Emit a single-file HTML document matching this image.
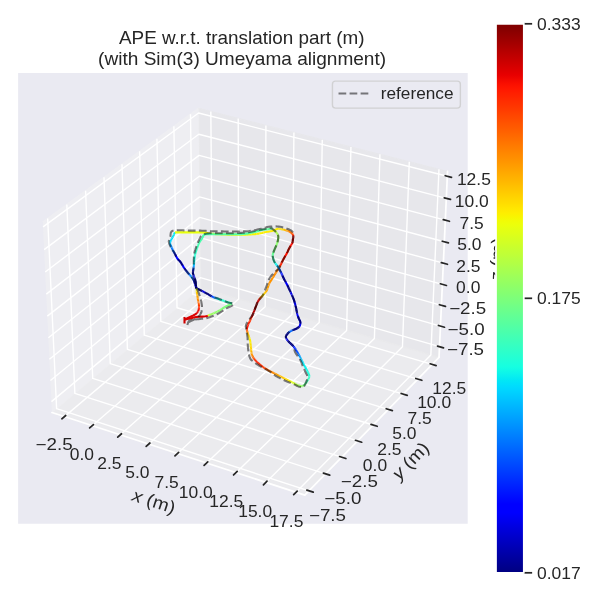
<!DOCTYPE html>
<html><head><meta charset="utf-8"><title>APE plot</title><style>html,body{margin:0;padding:0;background:#fff;font-family:"Liberation Sans",sans-serif}svg{display:block;will-change:transform}</style></head><body>
<svg width="600" height="600" viewBox="0 0 600 600">
<defs>
<linearGradient id="jetg" x1="0" y1="1" x2="0" y2="0"><stop offset="0.0000" stop-color="#000080"/><stop offset="0.0078" stop-color="#000089"/><stop offset="0.0156" stop-color="#000092"/><stop offset="0.0234" stop-color="#00009b"/><stop offset="0.0312" stop-color="#0000a4"/><stop offset="0.0391" stop-color="#0000ad"/><stop offset="0.0469" stop-color="#0000b6"/><stop offset="0.0547" stop-color="#0000bf"/><stop offset="0.0625" stop-color="#0000c8"/><stop offset="0.0703" stop-color="#0000d1"/><stop offset="0.0781" stop-color="#0000da"/><stop offset="0.0859" stop-color="#0000e3"/><stop offset="0.0938" stop-color="#0000ed"/><stop offset="0.1016" stop-color="#0000f6"/><stop offset="0.1094" stop-color="#0000ff"/><stop offset="0.1172" stop-color="#0000ff"/><stop offset="0.1250" stop-color="#0000ff"/><stop offset="0.1328" stop-color="#0008ff"/><stop offset="0.1406" stop-color="#0010ff"/><stop offset="0.1484" stop-color="#0018ff"/><stop offset="0.1562" stop-color="#0020ff"/><stop offset="0.1641" stop-color="#0028ff"/><stop offset="0.1719" stop-color="#0030ff"/><stop offset="0.1797" stop-color="#0038ff"/><stop offset="0.1875" stop-color="#0040ff"/><stop offset="0.1953" stop-color="#0048ff"/><stop offset="0.2031" stop-color="#0050ff"/><stop offset="0.2109" stop-color="#0058ff"/><stop offset="0.2188" stop-color="#0060ff"/><stop offset="0.2266" stop-color="#0068ff"/><stop offset="0.2344" stop-color="#0070ff"/><stop offset="0.2422" stop-color="#0078ff"/><stop offset="0.2500" stop-color="#0080ff"/><stop offset="0.2578" stop-color="#0088ff"/><stop offset="0.2656" stop-color="#0090ff"/><stop offset="0.2734" stop-color="#0098ff"/><stop offset="0.2812" stop-color="#00a0ff"/><stop offset="0.2891" stop-color="#00a8ff"/><stop offset="0.2969" stop-color="#00b0ff"/><stop offset="0.3047" stop-color="#00b8ff"/><stop offset="0.3125" stop-color="#00c0ff"/><stop offset="0.3203" stop-color="#00c8ff"/><stop offset="0.3281" stop-color="#00d0ff"/><stop offset="0.3359" stop-color="#00d8ff"/><stop offset="0.3438" stop-color="#00e0fb"/><stop offset="0.3516" stop-color="#02e8f4"/><stop offset="0.3594" stop-color="#09f0ee"/><stop offset="0.3672" stop-color="#0ff8e7"/><stop offset="0.3750" stop-color="#16ffe1"/><stop offset="0.3828" stop-color="#1cffdb"/><stop offset="0.3906" stop-color="#23ffd4"/><stop offset="0.3984" stop-color="#29ffce"/><stop offset="0.4062" stop-color="#30ffc7"/><stop offset="0.4141" stop-color="#36ffc1"/><stop offset="0.4219" stop-color="#3cffba"/><stop offset="0.4297" stop-color="#43ffb4"/><stop offset="0.4375" stop-color="#49ffad"/><stop offset="0.4453" stop-color="#50ffa7"/><stop offset="0.4531" stop-color="#56ffa0"/><stop offset="0.4609" stop-color="#5dff9a"/><stop offset="0.4688" stop-color="#63ff94"/><stop offset="0.4766" stop-color="#6aff8d"/><stop offset="0.4844" stop-color="#70ff87"/><stop offset="0.4922" stop-color="#77ff80"/><stop offset="0.5000" stop-color="#7dff7a"/><stop offset="0.5078" stop-color="#83ff73"/><stop offset="0.5156" stop-color="#8aff6d"/><stop offset="0.5234" stop-color="#90ff66"/><stop offset="0.5312" stop-color="#97ff60"/><stop offset="0.5391" stop-color="#9dff5a"/><stop offset="0.5469" stop-color="#a4ff53"/><stop offset="0.5547" stop-color="#aaff4d"/><stop offset="0.5625" stop-color="#b1ff46"/><stop offset="0.5703" stop-color="#b7ff40"/><stop offset="0.5781" stop-color="#beff39"/><stop offset="0.5859" stop-color="#c4ff33"/><stop offset="0.5938" stop-color="#caff2c"/><stop offset="0.6016" stop-color="#d1ff26"/><stop offset="0.6094" stop-color="#d7ff1f"/><stop offset="0.6172" stop-color="#deff19"/><stop offset="0.6250" stop-color="#e4ff13"/><stop offset="0.6328" stop-color="#ebff0c"/><stop offset="0.6406" stop-color="#f1fc06"/><stop offset="0.6484" stop-color="#f8f500"/><stop offset="0.6562" stop-color="#feed00"/><stop offset="0.6641" stop-color="#ffe600"/><stop offset="0.6719" stop-color="#ffde00"/><stop offset="0.6797" stop-color="#ffd700"/><stop offset="0.6875" stop-color="#ffd000"/><stop offset="0.6953" stop-color="#ffc800"/><stop offset="0.7031" stop-color="#ffc100"/><stop offset="0.7109" stop-color="#ffb900"/><stop offset="0.7188" stop-color="#ffb200"/><stop offset="0.7266" stop-color="#ffab00"/><stop offset="0.7344" stop-color="#ffa300"/><stop offset="0.7422" stop-color="#ff9c00"/><stop offset="0.7500" stop-color="#ff9400"/><stop offset="0.7578" stop-color="#ff8d00"/><stop offset="0.7656" stop-color="#ff8600"/><stop offset="0.7734" stop-color="#ff7e00"/><stop offset="0.7812" stop-color="#ff7700"/><stop offset="0.7891" stop-color="#ff6f00"/><stop offset="0.7969" stop-color="#ff6800"/><stop offset="0.8047" stop-color="#ff6000"/><stop offset="0.8125" stop-color="#ff5900"/><stop offset="0.8203" stop-color="#ff5200"/><stop offset="0.8281" stop-color="#ff4a00"/><stop offset="0.8359" stop-color="#ff4300"/><stop offset="0.8438" stop-color="#ff3b00"/><stop offset="0.8516" stop-color="#ff3400"/><stop offset="0.8594" stop-color="#ff2d00"/><stop offset="0.8672" stop-color="#ff2500"/><stop offset="0.8750" stop-color="#ff1e00"/><stop offset="0.8828" stop-color="#ff1600"/><stop offset="0.8906" stop-color="#fa0f00"/><stop offset="0.8984" stop-color="#f10800"/><stop offset="0.9062" stop-color="#e80000"/><stop offset="0.9141" stop-color="#df0000"/><stop offset="0.9219" stop-color="#d60000"/><stop offset="0.9297" stop-color="#cd0000"/><stop offset="0.9375" stop-color="#c40000"/><stop offset="0.9453" stop-color="#bb0000"/><stop offset="0.9531" stop-color="#b20000"/><stop offset="0.9609" stop-color="#a80000"/><stop offset="0.9688" stop-color="#9f0000"/><stop offset="0.9766" stop-color="#960000"/><stop offset="0.9844" stop-color="#8d0000"/><stop offset="0.9922" stop-color="#840000"/><stop offset="1.0000" stop-color="#800000"/></linearGradient>
  <style type="text/css">*{stroke-linejoin: round; stroke-linecap: butt}</style>
 </defs>
<g transform="scale(1.3888889)">
 <g id="figure_1">
  <g id="patch_1">
   <path d="M 0 432 
L 432 432 
L 432 0 
L 0 0 
z
" style="fill: #ffffff"/>
  </g>
  <g id="patch_2">
   <path d="M 13.032 377.136 L 336.744 377.136 L 336.744 52.596 L 13.032 52.596 z" style="fill: #eaeaf2"/>
  </g>
  <g id="pane3d_1">
   <g id="patch_3">
    <path d="M 37.424234 297.031983 
L 144.419616 207.346333 
L 142.932277 78.003593 
L 30.816616 159.820496 
" style="fill: #f2f2f2; opacity: 0.5; stroke: #f2f2f2; stroke-linejoin: miter"/>
   </g>
  </g>
  <g id="pane3d_2">
   <g id="patch_4">
    <path d="M 144.419616 207.346333 
L 316.109027 257.249667 
L 322.236017 123.451864 
L 142.932277 78.003593 
" style="fill: #e6e6e6; opacity: 0.5; stroke: #e6e6e6; stroke-linejoin: miter"/>
   </g>
  </g>
  <g id="pane3d_3">
   <g id="patch_5">
    <path d="M 37.424234 297.031983 
L 219.423396 356.472909 
L 316.109027 257.249667 
L 144.419616 207.346333 
" style="fill: #ececec; opacity: 0.5; stroke: #ececec; stroke-linejoin: miter"/>
   </g>
  </g>
  <g id="grid3d_1">
   <g id="Line3DCollection_1">
    <path d="M 46.400637 299.963677 
L 152.923143 209.817973 
L 151.795129 80.250067 
" style="fill: none; stroke: #ffffff"/>
    <path d="M 66.377989 306.48828 
L 171.83478 215.314839 
L 171.512534 85.247855 
" style="fill: none; stroke: #ffffff"/>
    <path d="M 86.593622 313.090705 
L 190.953307 220.87184 
L 191.454961 90.302679 
" style="fill: none; stroke: #ffffff"/>
    <path d="M 107.051824 319.772354 
L 210.282139 226.489968 
L 211.626285 95.415521 
" style="fill: none; stroke: #ffffff"/>
    <path d="M 127.756988 326.534661 
L 229.824765 232.170238 
L 232.030469 100.587387 
" style="fill: none; stroke: #ffffff"/>
    <path d="M 148.713612 333.379094 
L 249.584751 237.913686 
L 252.671569 105.819304 
" style="fill: none; stroke: #ffffff"/>
    <path d="M 169.926306 340.30716 
L 269.565746 243.721372 
L 273.553735 111.112325 
" style="fill: none; stroke: #ffffff"/>
    <path d="M 191.399791 347.3204 
L 289.771476 249.59438 
L 294.681216 116.467525 
" style="fill: none; stroke: #ffffff"/>
    <path d="M 213.138907 354.420395 
L 310.205755 255.533819 
L 316.058359 121.886008 
" style="fill: none; stroke: #ffffff"/>
   </g>
  </g>
  <g id="grid3d_2">
   <g id="Line3DCollection_2">
    <path d="M 34.324068 157.260917 
L 40.759212 294.236539 
L 222.449942 353.366928 
" style="fill: none; stroke: #ffffff"/>
    <path d="M 48.125201 147.189479 
L 53.889374 283.230577 
L 234.35767 341.14667 
" style="fill: none; stroke: #ffffff"/>
    <path d="M 61.63913 137.327629 
L 66.758178 272.44369 
L 246.01584 329.182519 
" style="fill: none; stroke: #ffffff"/>
    <path d="M 74.874728 127.668893 
L 79.373353 261.869401 
L 257.432217 317.466508 
" style="fill: none; stroke: #ffffff"/>
    <path d="M 87.840505 118.207059 
L 91.742321 251.501486 
L 268.614246 305.990996 
" style="fill: none; stroke: #ffffff"/>
    <path d="M 100.54463 108.936167 
L 103.872223 241.333962 
L 279.569068 294.748653 
" style="fill: none; stroke: #ffffff"/>
    <path d="M 112.994944 99.850495 
L 115.769921 231.361075 
L 290.30354 283.732445 
" style="fill: none; stroke: #ffffff"/>
    <path d="M 125.198977 90.944548 
L 127.442022 221.577289 
L 300.824243 272.935615 
" style="fill: none; stroke: #ffffff"/>
    <path d="M 137.163966 82.213044 
L 138.89488 211.977276 
L 311.1375 262.351676 
" style="fill: none; stroke: #ffffff"/>
   </g>
  </g>
  <g id="grid3d_3">
   <g id="Line3DCollection_3">
    <path d="M 316.460442 249.575645 
L 144.334139 199.913057 
L 37.045854 289.174668 
" style="fill: none; stroke: #ffffff"/>
    <path d="M 317.138199 234.775172 
L 144.169343 185.581984 
L 36.315885 274.016396 
" style="fill: none; stroke: #ffffff"/>
    <path d="M 317.822689 219.827664 
L 144.002988 171.115334 
L 35.578388 258.701797 
" style="fill: none; stroke: #ffffff"/>
    <path d="M 318.514013 204.730917 
L 143.835052 156.511176 
L 34.833246 243.228439 
" style="fill: none; stroke: #ffffff"/>
    <path d="M 319.212273 189.482685 
L 143.665512 141.767537 
L 34.08034 227.593841 
" style="fill: none; stroke: #ffffff"/>
    <path d="M 319.917576 174.080678 
L 143.494345 126.882412 
L 33.319546 211.79547 
" style="fill: none; stroke: #ffffff"/>
    <path d="M 320.630028 158.522557 
L 143.321527 111.853753 
L 32.550741 195.830739 
" style="fill: none; stroke: #ffffff"/>
    <path d="M 321.349737 142.805937 
L 143.147035 96.679475 
L 31.773798 179.697006 
" style="fill: none; stroke: #ffffff"/>
    <path d="M 322.076817 126.928382 
L 142.970844 81.35745 
L 30.988586 163.391573 
" style="fill: none; stroke: #ffffff"/>
   </g>
  </g>
  <g id="axis3d_1">
   <g id="line2d_1">
    <path d="M 37.424234 297.031983 
L 219.423396 356.472909 
" style="fill: none; stroke: #ffffff; stroke-width: 1.25; stroke-linecap: round"/>
   </g>
   <g id="xtick_1">
    <g id="line2d_2">
     <path d="M 179.338378 210.541622 
" clip-path="url(#p6dd42b0455)" style="fill: none; stroke: #ffffff; stroke-linecap: round"/>
    </g>
    <g id="line2d_3">
     <path d="M 47.328183 299.178732 
L 44.541567 301.536933 
" style="fill: none; stroke: #262626; stroke-width: 1.25; stroke-linecap: round"/>
    </g>
    <g id="text_1">
    </g>
   </g>
   <g id="xtick_2">
    <g id="line2d_4">
     <path d="M 179.338378 210.541622 
" clip-path="url(#p6dd42b0455)" style="fill: none; stroke: #ffffff; stroke-linecap: round"/>
    </g>
    <g id="line2d_5">
     <path d="M 67.296698 305.694004 
L 64.536609 308.080259 
" style="fill: none; stroke: #262626; stroke-width: 1.25; stroke-linecap: round"/>
    </g>
    <g id="text_2">
    </g>
   </g>
   <g id="xtick_3">
    <g id="line2d_6">
     <path d="M 179.338378 210.541622 
" clip-path="url(#p6dd42b0455)" style="fill: none; stroke: #ffffff; stroke-linecap: round"/>
    </g>
    <g id="line2d_7">
     <path d="M 87.503216 312.286931 
L 84.770488 314.701743 
" style="fill: none; stroke: #262626; stroke-width: 1.25; stroke-linecap: round"/>
    </g>
    <g id="text_3">
    </g>
   </g>
   <g id="xtick_4">
    <g id="line2d_8">
     <path d="M 179.338378 210.541622 
" clip-path="url(#p6dd42b0455)" style="fill: none; stroke: #ffffff; stroke-linecap: round"/>
    </g>
    <g id="line2d_9">
     <path d="M 107.952017 318.958909 
L 105.247508 321.402795 
" style="fill: none; stroke: #262626; stroke-width: 1.25; stroke-linecap: round"/>
    </g>
    <g id="text_4">
    </g>
   </g>
   <g id="xtick_5">
    <g id="line2d_10">
     <path d="M 179.338378 210.541622 
" clip-path="url(#p6dd42b0455)" style="fill: none; stroke: #ffffff; stroke-linecap: round"/>
    </g>
    <g id="line2d_11">
     <path d="M 128.647487 325.71137 
L 125.972079 328.184857 
" style="fill: none; stroke: #262626; stroke-width: 1.25; stroke-linecap: round"/>
    </g>
    <g id="text_5">
    </g>
   </g>
   <g id="xtick_6">
    <g id="line2d_12">
     <path d="M 179.338378 210.541622 
" clip-path="url(#p6dd42b0455)" style="fill: none; stroke: #ffffff; stroke-linecap: round"/>
    </g>
    <g id="line2d_13">
     <path d="M 149.594114 332.545778 
L 146.948717 335.049408 
" style="fill: none; stroke: #262626; stroke-width: 1.25; stroke-linecap: round"/>
    </g>
    <g id="text_6">
    </g>
   </g>
   <g id="xtick_7">
    <g id="line2d_14">
     <path d="M 179.338378 210.541622 
" clip-path="url(#p6dd42b0455)" style="fill: none; stroke: #ffffff; stroke-linecap: round"/>
    </g>
    <g id="line2d_15">
     <path d="M 170.7965 339.463634 
L 168.182049 341.99796 
" style="fill: none; stroke: #262626; stroke-width: 1.25; stroke-linecap: round"/>
    </g>
    <g id="text_7">
    </g>
   </g>
   <g id="xtick_8">
    <g id="line2d_16">
     <path d="M 179.338378 210.541622 
" clip-path="url(#p6dd42b0455)" style="fill: none; stroke: #ffffff; stroke-linecap: round"/>
    </g>
    <g id="line2d_17">
     <path d="M 192.259356 346.466476 
L 189.676815 349.032067 
" style="fill: none; stroke: #262626; stroke-width: 1.25; stroke-linecap: round"/>
    </g>
    <g id="text_8">
    </g>
   </g>
   <g id="xtick_9">
    <g id="line2d_18">
     <path d="M 179.338378 210.541622 
" clip-path="url(#p6dd42b0455)" style="fill: none; stroke: #ffffff; stroke-linecap: round"/>
    </g>
    <g id="line2d_19">
     <path d="M 213.987513 353.555879 
L 211.437874 356.153317 
" style="fill: none; stroke: #262626; stroke-width: 1.25; stroke-linecap: round"/>
    </g>
    <g id="text_9">
    </g>
   </g>
   <g id="text_10">
    <g style="fill: #262626" transform="translate(93.501071 359.362735) rotate(-341.912962)">
    </g>
   </g>
  </g>
  <g id="axis3d_2">
   <g id="line2d_20">
    <path d="M 316.109027 257.249667 
L 219.423396 356.472909 
" style="fill: none; stroke: #ffffff; stroke-width: 1.25; stroke-linecap: round"/>
   </g>
   <g id="xtick_10">
    <g id="line2d_21">
     <path d="M 179.338378 210.541622 
" clip-path="url(#p6dd42b0455)" style="fill: none; stroke: #ffffff; stroke-linecap: round"/>
    </g>
    <g id="line2d_22">
     <path d="M 220.918576 352.868551 
L 225.516649 354.364973 
" style="fill: none; stroke: #262626; stroke-width: 1.25; stroke-linecap: round"/>
    </g>
    <g id="text_11">
    </g>
   </g>
   <g id="xtick_11">
    <g id="line2d_23">
     <path d="M 179.338378 210.541622 
" clip-path="url(#p6dd42b0455)" style="fill: none; stroke: #ffffff; stroke-linecap: round"/>
    </g>
    <g id="line2d_24">
     <path d="M 232.837425 340.658791 
L 237.402063 342.12368 
" style="fill: none; stroke: #262626; stroke-width: 1.25; stroke-linecap: round"/>
    </g>
    <g id="text_12">
    </g>
   </g>
   <g id="xtick_12">
    <g id="line2d_25">
     <path d="M 179.338378 210.541622 
" clip-path="url(#p6dd42b0455)" style="fill: none; stroke: #ffffff; stroke-linecap: round"/>
    </g>
    <g id="line2d_26">
     <path d="M 244.50659 328.704809 
L 249.038176 330.139152 
" style="fill: none; stroke: #262626; stroke-width: 1.25; stroke-linecap: round"/>
    </g>
    <g id="text_13">
    </g>
   </g>
   <g id="xtick_13">
    <g id="line2d_27">
     <path d="M 179.338378 210.541622 
" clip-path="url(#p6dd42b0455)" style="fill: none; stroke: #ffffff; stroke-linecap: round"/>
    </g>
    <g id="line2d_28">
     <path d="M 255.933834 316.998652 
L 260.432751 318.403395 
" style="fill: none; stroke: #262626; stroke-width: 1.25; stroke-linecap: round"/>
    </g>
    <g id="text_14">
    </g>
   </g>
   <g id="xtick_14">
    <g id="line2d_29">
     <path d="M 179.338378 210.541622 
" clip-path="url(#p6dd42b0455)" style="fill: none; stroke: #ffffff; stroke-linecap: round"/>
    </g>
    <g id="line2d_30">
     <path d="M 267.126603 305.532693 
L 271.593231 306.908742 
" style="fill: none; stroke: #262626; stroke-width: 1.25; stroke-linecap: round"/>
    </g>
    <g id="text_15">
    </g>
   </g>
   <g id="xtick_15">
    <g id="line2d_31">
     <path d="M 179.338378 210.541622 
" clip-path="url(#p6dd42b0455)" style="fill: none; stroke: #ffffff; stroke-linecap: round"/>
    </g>
    <g id="line2d_32">
     <path d="M 278.092042 294.299614 
L 282.526757 295.647839 
" style="fill: none; stroke: #262626; stroke-width: 1.25; stroke-linecap: round"/>
    </g>
    <g id="text_16">
    </g>
   </g>
   <g id="xtick_16">
    <g id="line2d_33">
     <path d="M 179.338378 210.541622 
" clip-path="url(#p6dd42b0455)" style="fill: none; stroke: #ffffff; stroke-linecap: round"/>
    </g>
    <g id="line2d_34">
     <path d="M 288.837006 283.29239 
L 293.240181 284.613627 
" style="fill: none; stroke: #262626; stroke-width: 1.25; stroke-linecap: round"/>
    </g>
    <g id="text_17">
    </g>
   </g>
   <g id="xtick_17">
    <g id="line2d_35">
     <path d="M 179.338378 210.541622 
" clip-path="url(#p6dd42b0455)" style="fill: none; stroke: #ffffff; stroke-linecap: round"/>
    </g>
    <g id="line2d_36">
     <path d="M 299.368079 272.504278 
L 303.740085 273.79933 
" style="fill: none; stroke: #262626; stroke-width: 1.25; stroke-linecap: round"/>
    </g>
    <g id="text_18">
    </g>
   </g>
   <g id="xtick_18">
    <g id="line2d_37">
     <path d="M 179.338378 210.541622 
" clip-path="url(#p6dd42b0455)" style="fill: none; stroke: #ffffff; stroke-linecap: round"/>
    </g>
    <g id="line2d_38">
     <path d="M 309.691584 261.928801 
L 314.032788 263.198438 
" style="fill: none; stroke: #262626; stroke-width: 1.25; stroke-linecap: round"/>
    </g>
    <g id="text_19">
    </g>
   </g>
   <g id="text_20">
    <g style="fill: #262626" transform="translate(288.078353 346.421472) rotate(-45.742112)">
    </g>
   </g>
  </g>
  <g id="axis3d_3">
   <g id="line2d_39">
    <path d="M 316.109027 257.249667 
L 322.236017 123.451864 
" style="fill: none; stroke: #ffffff; stroke-width: 1.25; stroke-linecap: round"/>
   </g>
   <g id="xtick_19">
    <g id="line2d_40">
     <path d="M 179.338378 210.541622 
" style="fill: none; stroke: #ffffff; stroke-linecap: round"/>
    </g>
    <g id="line2d_41">
     <path d="M 315.015655 249.158789 
L 319.353462 250.410351 
" style="fill: none; stroke: #262626; stroke-width: 1.25; stroke-linecap: round"/>
    </g>
    <g id="text_21">
    </g>
   </g>
   <g id="xtick_20">
    <g id="line2d_42">
     <path d="M 179.338378 210.541622 
" style="fill: none; stroke: #ffffff; stroke-linecap: round"/>
    </g>
    <g id="line2d_43">
     <path d="M 315.686003 234.362161 
L 320.046071 235.602186 
" style="fill: none; stroke: #262626; stroke-width: 1.25; stroke-linecap: round"/>
    </g>
    <g id="text_22">
    </g>
   </g>
   <g id="xtick_21">
    <g id="line2d_44">
     <path d="M 179.338378 210.541622 
" style="fill: none; stroke: #ffffff; stroke-linecap: round"/>
    </g>
    <g id="line2d_45">
     <path d="M 316.363008 219.418593 
L 320.745566 220.646789 
" style="fill: none; stroke: #262626; stroke-width: 1.25; stroke-linecap: round"/>
    </g>
    <g id="text_23">
    </g>
   </g>
   <g id="xtick_22">
    <g id="line2d_46">
     <path d="M 179.338378 210.541622 
" style="fill: none; stroke: #ffffff; stroke-linecap: round"/>
    </g>
    <g id="line2d_47">
     <path d="M 317.046769 204.325887 
L 321.452051 205.541956 
" style="fill: none; stroke: #262626; stroke-width: 1.25; stroke-linecap: round"/>
    </g>
    <g id="text_24">
    </g>
   </g>
   <g id="xtick_23">
    <g id="line2d_48">
     <path d="M 179.338378 210.541622 
" style="fill: none; stroke: #ffffff; stroke-linecap: round"/>
    </g>
    <g id="line2d_49">
     <path d="M 317.737389 189.081799 
L 322.16563 190.285434 
" style="fill: none; stroke: #262626; stroke-width: 1.25; stroke-linecap: round"/>
    </g>
    <g id="text_25">
    </g>
   </g>
   <g id="xtick_24">
    <g id="line2d_50">
     <path d="M 179.338378 210.541622 
" style="fill: none; stroke: #ffffff; stroke-linecap: round"/>
    </g>
    <g id="line2d_51">
     <path d="M 318.434971 173.684039 
L 322.886412 174.874927 
" style="fill: none; stroke: #262626; stroke-width: 1.25; stroke-linecap: round"/>
    </g>
    <g id="text_26">
    </g>
   </g>
   <g id="xtick_25">
    <g id="line2d_52">
     <path d="M 179.338378 210.541622 
" style="fill: none; stroke: #ffffff; stroke-linecap: round"/>
    </g>
    <g id="line2d_53">
     <path d="M 319.13962 158.130272 
L 323.614505 159.308092 
" style="fill: none; stroke: #262626; stroke-width: 1.25; stroke-linecap: round"/>
    </g>
    <g id="text_27">
    </g>
   </g>
   <g id="xtick_26">
    <g id="line2d_54">
     <path d="M 179.338378 210.541622 
" style="fill: none; stroke: #ffffff; stroke-linecap: round"/>
    </g>
    <g id="line2d_55">
     <path d="M 319.851445 142.418115 
L 324.350022 143.582538 
" style="fill: none; stroke: #262626; stroke-width: 1.25; stroke-linecap: round"/>
    </g>
    <g id="text_28">
    </g>
   </g>
   <g id="xtick_27">
    <g id="line2d_56">
     <path d="M 179.338378 210.541622 
" style="fill: none; stroke: #ffffff; stroke-linecap: round"/>
    </g>
    <g id="line2d_57">
     <path d="M 320.570556 126.545136 
L 325.093077 127.695826 
" style="fill: none; stroke: #262626; stroke-width: 1.25; stroke-linecap: round"/>
    </g>
    <g id="text_29">
    </g>
   </g>
   <g id="text_30">
    <g style="fill: #262626" transform="translate(362.123301 202.135779) rotate(-87.378092)">
    </g>
   </g>
  </g>
  <g id="axes_1">
   <g id="line2d_58">
    <path d="M 106.46628 217.767378 
" clip-path="url(#p6dd42b0455)" style="fill: none; stroke-dasharray: 5.55,2.4; stroke-dashoffset: 0; stroke: #000000; stroke-opacity: 0.5; stroke-width: 1.5"/>
   </g>
   <g id="text_31">
   </g>
   <g id="legend_1">
    <g id="patch_6">
     <path d="M 241.545313 77.865937 
L 329.26 77.865937 
Q 331.46 77.865937 331.46 75.665937 
L 331.46 60.62 
Q 331.46 58.42 329.26 58.42 
L 241.545313 58.42 
Q 239.345313 58.42 239.345313 60.62 
L 239.345313 75.665937 
Q 239.345313 77.865937 241.545313 77.865937 
z
" style="fill: #eaeaf2; opacity: 0.8; stroke: #cccccc; stroke-linejoin: miter"/>
    </g>
    <g id="line2d_59">
     <path d="M 243.745313 67.328281 
L 254.745313 67.328281 
L 265.745313 67.328281 
" style="fill: none; stroke-dasharray: 5.55,2.4; stroke-dashoffset: 0; stroke: #000000; stroke-opacity: 0.5; stroke-width: 1.5"/>
    </g>
    <g id="text_32">
    </g>
   </g>
  </g>
  </g></g>
<g fill="none">
<g stroke-width="2.083" stroke-linecap="round" stroke-linejoin="round">
<path d="M185.0 319.5 L185.9 319.3 L187.1 319.1 L188.6 318.8 L190.0 318.5 L191.1 318.2 L192.2 317.9 L193.4 317.6 L194.7 317.2 L196.0 317.0 L197.2 316.9 L198.6 316.8 L200.0 316.7 L201.4 316.6 L202.7 316.6 L203.8 316.5 L205.5 316.3 L206.8 316.1 L207.8 315.9" stroke="#da0000"/>
<path d="M207.8 315.9 L208.1 315.7" stroke="#ff4e00"/>
<path d="M208.1 315.7 L209.0 315.2" stroke="#f1fc06"/>
<path d="M209.0 315.2 L209.8 314.8" stroke="#a4ff53"/>
<path d="M209.8 314.8 L210.9 314.4" stroke="#a0ff56"/>
<path d="M210.9 314.4 L212.1 313.9" stroke="#9dff5a"/>
<path d="M212.1 313.9 L213.5 313.4" stroke="#97ff60"/>
<path d="M213.5 313.4 L214.8 312.8" stroke="#94ff63"/>
<path d="M214.8 312.8 L216.2 312.2" stroke="#90ff66"/>
<path d="M216.2 312.2 L217.4 311.6" stroke="#8dff6a"/>
<path d="M217.4 311.6 L218.6 311.0 L219.7 310.3" stroke="#8aff6d"/>
<path d="M219.7 310.3 L220.9 309.6" stroke="#87ff70"/>
<path d="M220.9 309.6 L222.0 308.9" stroke="#83ff73"/>
<path d="M222.0 308.9 L223.1 308.2 L224.2 307.5" stroke="#80ff77"/>
<path d="M224.2 307.5 L225.3 306.9 L226.6 306.2 L227.9 305.5 L229.1 304.9 L230.3 304.3 L231.3 303.9 L232.0 303.5" stroke="#7dff7a"/>
<path d="M232.0 303.5 L231.0 303.2" stroke="#39ffbe"/>
<path d="M231.0 303.2 L229.6 302.8" stroke="#36ffc1"/>
<path d="M229.6 302.8 L228.0 302.3" stroke="#33ffc4"/>
<path d="M228.0 302.3 L226.8 301.9 L225.6 301.5" stroke="#30ffc7"/>
<path d="M225.6 301.5 L224.3 301.0" stroke="#2cffca"/>
<path d="M224.3 301.0 L223.0 300.6" stroke="#29ffce"/>
<path d="M223.0 300.6 L221.8 300.2" stroke="#26ffd1"/>
<path d="M221.8 300.2 L220.5 299.7" stroke="#23ffd4"/>
<path d="M220.5 299.7 L219.2 299.3" stroke="#1fffd7"/>
<path d="M219.2 299.3 L218.0 298.8" stroke="#19ffde"/>
<path d="M218.0 298.8 L216.8 298.4" stroke="#06ecf1"/>
<path d="M216.8 298.4 L215.5 298.0" stroke="#00c0ff"/>
<path d="M215.5 298.0 L214.2 297.5" stroke="#0090ff"/>
<path d="M214.2 297.5 L213.0 297.0" stroke="#0060ff"/>
<path d="M213.0 297.0 L211.7 296.4" stroke="#0040ff"/>
<path d="M211.7 296.4 L210.4 295.6" stroke="#0024ff"/>
<path d="M210.4 295.6 L209.2 294.9" stroke="#000cff"/>
<path d="M209.2 294.9 L208.0 294.2" stroke="#0000ff"/>
<path d="M208.0 294.2 L207.0 293.6" stroke="#0000ed"/>
<path d="M207.0 293.6 L206.0 293.1" stroke="#0000e8"/>
<path d="M206.0 293.1 L205.0 292.6" stroke="#0000e3"/>
<path d="M205.0 292.6 L204.0 292.0" stroke="#0000df"/>
<path d="M204.0 292.0 L202.8 291.4" stroke="#0000d6"/>
<path d="M202.8 291.4 L201.4 290.7" stroke="#0000d1"/>
<path d="M201.4 290.7 L200.1 290.0" stroke="#0000cd"/>
<path d="M200.1 290.0 L199.0 289.5" stroke="#0000c8"/>
<path d="M199.0 289.5 L197.4 288.8" stroke="#0000bf"/>
<path d="M197.4 288.8 L196.5 288.5" stroke="#0000bb"/>
<path d="M196.5 288.5 L196.3 287.8" stroke="#0000bf"/>
<path d="M196.3 287.8 L195.9 286.7" stroke="#0000c8"/>
<path d="M195.9 286.7 L195.5 285.5" stroke="#0000d6"/>
<path d="M195.5 285.5 L195.2 284.4" stroke="#0000e3"/>
<path d="M195.2 284.4 L194.8 283.2" stroke="#0000fa"/>
<path d="M194.8 283.2 L194.5 282.0" stroke="#0000ff"/>
<path d="M194.5 282.0 L194.0 280.8" stroke="#0010ff"/>
<path d="M194.0 280.8 L193.5 279.7" stroke="#0028ff"/>
<path d="M193.5 279.7 L192.9 278.7" stroke="#0048ff"/>
<path d="M192.9 278.7 L192.2 277.8" stroke="#006cff"/>
<path d="M192.2 277.8 L191.5 276.8" stroke="#008cff"/>
<path d="M191.5 276.8 L190.7 275.9" stroke="#0094ff"/>
<path d="M190.7 275.9 L189.8 275.0" stroke="#0080ff"/>
<path d="M189.8 275.0 L188.9 274.0" stroke="#0068ff"/>
<path d="M188.9 274.0 L188.0 273.0" stroke="#0054ff"/>
<path d="M188.0 273.0 L187.3 272.1" stroke="#0044ff"/>
<path d="M187.3 272.1 L186.5 271.1" stroke="#0034ff"/>
<path d="M186.5 271.1 L185.7 270.1" stroke="#0020ff"/>
<path d="M185.7 270.1 L185.0 269.1" stroke="#0010ff"/>
<path d="M185.0 269.1 L184.2 268.0 L183.4 266.8 L182.7 265.5 L181.9 264.2 L181.2 263.0 L180.5 262.0 L179.4 260.7 L178.4 259.8 L177.5 258.8 L176.8 257.6 L176.1 256.3 L175.5 255.0" stroke="#0000ff"/>
<path d="M175.5 255.0 L175.0 254.0" stroke="#0004ff"/>
<path d="M175.0 254.0 L174.4 253.0" stroke="#0020ff"/>
<path d="M174.4 253.0 L173.8 252.0" stroke="#0038ff"/>
<path d="M173.8 252.0 L173.3 251.0" stroke="#0054ff"/>
<path d="M173.3 251.0 L172.7 249.9" stroke="#0064ff"/>
<path d="M172.7 249.9 L172.2 248.8" stroke="#0070ff"/>
<path d="M172.2 248.8 L171.7 247.6" stroke="#0078ff"/>
<path d="M171.7 247.6 L171.2 246.5" stroke="#0084ff"/>
<path d="M171.2 246.5 L170.6 245.1" stroke="#0094ff"/>
<path d="M170.6 245.1 L170.1 243.8" stroke="#00acff"/>
<path d="M170.1 243.8 L170.0 242.4" stroke="#00c4ff"/>
<path d="M170.0 242.4 L170.4 241.2" stroke="#00d4ff"/>
<path d="M170.4 241.2 L171.0 240.0" stroke="#00d8ff"/>
<path d="M171.0 240.0 L171.8 238.8" stroke="#00dcfe"/>
<path d="M171.8 238.8 L172.5 237.5" stroke="#00e0fb"/>
<path d="M172.5 237.5 L173.2 236.1" stroke="#00e4f8"/>
<path d="M173.2 236.1 L173.9 234.6" stroke="#02e8f4"/>
<path d="M173.9 234.6 L174.6 233.3 L175.0 232.4" stroke="#06ecf1"/>
<path d="M175.0 232.4 L175.9 232.4 L177.1 232.4 L178.4 232.4 L180.0 232.4 L181.6 232.4 L183.4 232.4 L185.1 232.4 L186.8 232.4 L188.5 232.4 L190.0 232.4 L191.5 232.4 L193.0 232.4 L194.5 232.4 L196.0 232.4 L197.4 232.4 L198.9 232.4 L200.3 232.5 L201.6 232.5 L202.8 232.5 L204.0 232.6 L205.6 232.7 L206.9 232.9 L208.1 233.2 L209.2 233.4 L210.4 233.6 L212.0 233.8 L213.2 233.9 L214.4 234.0 L215.7 234.1 L217.1 234.2 L218.5 234.3 L220.0 234.3 L221.5 234.4 L223.2 234.5 L225.0 234.5 L226.2 234.5 L227.6 234.6 L229.0 234.6 L230.4 234.6" stroke="#e7ff0f"/>
<path d="M230.4 234.6 L231.9 234.6 L233.5 234.6 L235.0 234.6 L236.6 234.7 L238.1 234.7" stroke="#ebff0c"/>
<path d="M238.1 234.7 L239.6 234.7 L241.1 234.6 L242.5 234.6 L243.8 234.6 L245.0 234.6 L246.7 234.6" stroke="#eeff09"/>
<path d="M246.7 234.6 L248.4 234.5 L249.9 234.4 L251.3 234.4" stroke="#f1fc06"/>
<path d="M251.3 234.4 L252.6 234.3 L253.9 234.2 L255.1 234.1 L256.3 233.9" stroke="#f4f802"/>
<path d="M256.3 233.9 L257.5 233.8 L259.2 233.6" stroke="#f8f500"/>
<path d="M259.2 233.6 L260.7 233.3 L262.1 233.0 L263.5 232.6" stroke="#fbf100"/>
<path d="M263.5 232.6 L264.7 232.3 L265.8 232.1 L267.2 231.8 L268.3 231.7 L269.3 231.5 L270.3 231.3 L271.9 230.9 L273.4 230.4 L274.5 230.0" stroke="#feed00"/>
<path d="M274.5 230.0 L275.5 229.6 L276.8 229.1 L278.3 228.8" stroke="#feed00"/>
<path d="M278.3 228.8 L279.3 228.8" stroke="#ffea00"/>
<path d="M279.3 228.8 L280.4 229.0" stroke="#ffe600"/>
<path d="M280.4 229.0 L281.6 229.2" stroke="#ffde00"/>
<path d="M281.6 229.2 L282.8 229.5" stroke="#ffdb00"/>
<path d="M282.8 229.5 L283.9 229.8" stroke="#ffd000"/>
<path d="M283.9 229.8 L285.2 230.1" stroke="#ffc100"/>
<path d="M285.2 230.1 L286.4 230.4" stroke="#ffb200"/>
<path d="M286.4 230.4 L287.6 230.8" stroke="#ffa300"/>
<path d="M287.6 230.8 L288.7 231.2" stroke="#ff9400"/>
<path d="M288.7 231.2 L290.2 232.0" stroke="#ff8200"/>
<path d="M290.2 232.0 L291.5 232.8" stroke="#ff6f00"/>
<path d="M291.5 232.8 L292.4 233.7" stroke="#ff5d00"/>
<path d="M292.4 233.7 L293.1 235.0" stroke="#ff3f00"/>
<path d="M293.1 235.0 L293.3 236.5" stroke="#ff1a00"/>
<path d="M293.3 236.5 L293.2 237.6" stroke="#ed0400"/>
<path d="M293.2 237.6 L293.0 238.9" stroke="#df0000"/>
<path d="M293.0 238.9 L292.8 240.0 L292.8 241.3" stroke="#d60000"/>
<path d="M292.8 241.3 L292.4 242.8" stroke="#e80000"/>
<path d="M292.4 242.8 L291.9 243.9" stroke="#f10800"/>
<path d="M291.9 243.9 L291.1 245.1" stroke="#f60b00"/>
<path d="M291.1 245.1 L290.3 246.4 L289.5 247.8" stroke="#fa0f00"/>
<path d="M289.5 247.8 L288.9 248.9 L288.3 250.1 L287.8 251.4 L287.2 252.6 L286.6 253.7 L285.9 255.0 L285.1 256.3 L284.4 257.5 L283.7 258.7 L283.0 259.9" stroke="#ff1300"/>
<path d="M283.0 259.9 L282.4 261.2 L281.8 262.4" stroke="#ff1600"/>
<path d="M281.8 262.4 L281.2 263.7" stroke="#ff1a00"/>
<path d="M281.2 263.7 L280.6 265.0" stroke="#ff2200"/>
<path d="M280.6 265.0 L279.9 266.3" stroke="#ff3000"/>
<path d="M279.9 266.3 L279.3 267.6" stroke="#ff3f00"/>
<path d="M279.3 267.6 L278.7 268.7" stroke="#ff4e00"/>
<path d="M278.7 268.7 L278.1 269.6" stroke="#ff5d00"/>
<path d="M278.1 269.6 L277.5 270.2" stroke="#ff6c00"/>
<path d="M277.5 270.2 L276.7 271.4" stroke="#ff7a00"/>
<path d="M276.7 271.4 L276.1 272.4" stroke="#ff8600"/>
<path d="M276.1 272.4 L275.3 273.6" stroke="#ff8900"/>
<path d="M275.3 273.6 L274.4 275.0 L273.6 276.4" stroke="#ff8d00"/>
<path d="M273.6 276.4 L272.8 277.7" stroke="#ff9100"/>
<path d="M272.8 277.7 L272.1 278.8 L271.3 280.1 L270.6 281.1 L270.0 282.0 L269.3 283.3" stroke="#ff9400"/>
<path d="M269.3 283.3 L268.9 284.4" stroke="#ff9800"/>
<path d="M268.9 284.4 L268.4 285.7" stroke="#ff9c00"/>
<path d="M268.4 285.7 L268.0 287.0 L267.6 288.3" stroke="#ff9f00"/>
<path d="M267.6 288.3 L267.1 289.6" stroke="#ffa300"/>
<path d="M267.1 289.6 L266.6 290.7" stroke="#ffa700"/>
<path d="M266.6 290.7 L265.8 292.0" stroke="#ffb200"/>
<path d="M265.8 292.0 L264.9 293.1" stroke="#ffc100"/>
<path d="M264.9 293.1 L263.9 294.1" stroke="#ffd300"/>
<path d="M263.9 294.1 L262.9 295.2" stroke="#ffe200"/>
<path d="M262.9 295.2 L262.0 296.2" stroke="#ffd000"/>
<path d="M262.0 296.2 L261.0 297.3" stroke="#ff9800"/>
<path d="M261.0 297.3 L260.0 298.4" stroke="#ff6000"/>
<path d="M260.0 298.4 L259.1 299.6" stroke="#ff2d00"/>
<path d="M259.1 299.6 L258.3 300.8" stroke="#da0000"/>
<path d="M258.3 300.8 L257.6 302.0" stroke="#b60000"/>
<path d="M257.6 302.0 L257.1 303.3" stroke="#b20000"/>
<path d="M257.1 303.3 L256.6 304.5" stroke="#ad0000"/>
<path d="M256.6 304.5 L256.1 305.8" stroke="#a80000"/>
<path d="M256.1 305.8 L255.6 307.2 L255.1 308.4 L254.7 309.7" stroke="#a40000"/>
<path d="M254.7 309.7 L254.2 310.9" stroke="#a80000"/>
<path d="M254.2 310.9 L253.7 312.2" stroke="#ad0000"/>
<path d="M253.7 312.2 L253.2 313.4" stroke="#b20000"/>
<path d="M253.2 313.4 L252.8 314.5" stroke="#b60000"/>
<path d="M252.8 314.5 L252.2 315.8" stroke="#c40000"/>
<path d="M252.2 315.8 L251.7 316.9" stroke="#e40000"/>
<path d="M251.7 316.9 L251.1 318.1" stroke="#ff1300"/>
<path d="M251.1 318.1 L250.5 319.5" stroke="#ff2d00"/>
<path d="M250.5 319.5 L250.0 320.6" stroke="#ff3400"/>
<path d="M250.0 320.6 L249.5 321.7" stroke="#ff2d00"/>
<path d="M249.5 321.7 L248.8 323.0" stroke="#ff2500"/>
<path d="M248.8 323.0 L248.2 324.3" stroke="#ff1e00"/>
<path d="M248.2 324.3 L247.7 325.7" stroke="#ff1a00"/>
<path d="M247.7 325.7 L247.3 326.9" stroke="#ff1300"/>
<path d="M247.3 326.9 L247.0 328.0" stroke="#f60b00"/>
<path d="M247.0 328.0 L246.9 329.4" stroke="#ff1a00"/>
<path d="M246.9 329.4 L247.0 330.6" stroke="#ff3f00"/>
<path d="M247.0 330.6 L247.3 331.7" stroke="#ff6800"/>
<path d="M247.3 331.7 L247.7 332.8" stroke="#ff8d00"/>
<path d="M247.7 332.8 L248.0 334.0" stroke="#ffb200"/>
<path d="M248.0 334.0 L248.4 335.2" stroke="#ffcc00"/>
<path d="M248.4 335.2 L248.8 336.3" stroke="#ffd300"/>
<path d="M248.8 336.3 L249.2 337.5" stroke="#ffde00"/>
<path d="M249.2 337.5 L249.6 338.7" stroke="#ffe600"/>
<path d="M249.6 338.7 L250.0 340.0 L250.2 341.2" stroke="#fbf100"/>
<path d="M250.2 341.2 L250.4 342.6" stroke="#feed00"/>
<path d="M250.4 342.6 L250.6 343.9" stroke="#ffea00"/>
<path d="M250.6 343.9 L250.7 345.3" stroke="#ffe600"/>
<path d="M250.7 345.3 L250.8 346.7" stroke="#ffde00"/>
<path d="M250.8 346.7 L251.0 348.0" stroke="#ffdb00"/>
<path d="M251.0 348.0 L251.2 349.5" stroke="#ffd300"/>
<path d="M251.2 349.5 L251.3 350.9" stroke="#ffc400"/>
<path d="M251.3 350.9 L251.4 352.3" stroke="#ffb600"/>
<path d="M251.4 352.3 L251.6 353.7" stroke="#ffab00"/>
<path d="M251.6 353.7 L252.0 355.0" stroke="#ff9c00"/>
<path d="M252.0 355.0 L252.6 356.3" stroke="#ff8900"/>
<path d="M252.6 356.3 L253.2 357.5" stroke="#ff7300"/>
<path d="M253.2 357.5 L254.0 358.6" stroke="#ff5900"/>
<path d="M254.0 358.6 L255.0 359.8" stroke="#ff3f00"/>
<path d="M255.0 359.8 L256.0 361.0" stroke="#ff2900"/>
<path d="M256.0 361.0 L256.8 361.9" stroke="#ff1e00"/>
<path d="M256.8 361.9 L257.8 362.8" stroke="#ff2200"/>
<path d="M257.8 362.8 L258.8 363.6" stroke="#ff2500"/>
<path d="M258.8 363.6 L259.8 364.5" stroke="#ff2900"/>
<path d="M259.8 364.5 L260.9 365.4" stroke="#ff2d00"/>
<path d="M260.9 365.4 L261.9 366.2" stroke="#ff3000"/>
<path d="M261.9 366.2 L263.0 367.0" stroke="#ff3400"/>
<path d="M263.0 367.0 L264.2 367.9" stroke="#ff3b00"/>
<path d="M264.2 367.9 L265.5 368.6" stroke="#ff4700"/>
<path d="M265.5 368.6 L266.8 369.4" stroke="#ff5200"/>
<path d="M266.8 369.4 L268.0 370.1" stroke="#ff5d00"/>
<path d="M268.0 370.1 L269.4 370.9" stroke="#ff6800"/>
<path d="M269.4 370.9 L270.7 371.6" stroke="#ff7300"/>
<path d="M270.7 371.6 L271.9 372.2" stroke="#ff7e00"/>
<path d="M271.9 372.2 L273.1 372.8" stroke="#ff8600"/>
<path d="M273.1 372.8 L274.3 373.4" stroke="#ff8d00"/>
<path d="M274.3 373.4 L275.5 374.0" stroke="#ff9400"/>
<path d="M275.5 374.0 L276.8 374.7" stroke="#ff9f00"/>
<path d="M276.8 374.7 L278.0 375.3" stroke="#ffa700"/>
<path d="M278.0 375.3 L279.3 375.9" stroke="#ffae00"/>
<path d="M279.3 375.9 L280.5 376.5" stroke="#ffb600"/>
<path d="M280.5 376.5 L281.7 377.1" stroke="#ffbd00"/>
<path d="M281.7 377.1 L283.0 377.7" stroke="#ffc400"/>
<path d="M283.0 377.7 L284.3 378.4" stroke="#ffcc00"/>
<path d="M284.3 378.4 L285.5 379.0" stroke="#ffd300"/>
<path d="M285.5 379.0 L286.7 379.6" stroke="#ffdb00"/>
<path d="M286.7 379.6 L287.8 380.1" stroke="#ffe200"/>
<path d="M287.8 380.1 L288.8 380.6" stroke="#ffea00"/>
<path d="M288.8 380.6 L290.4 381.4" stroke="#fbf100"/>
<path d="M290.4 381.4 L291.6 382.1" stroke="#eeff09"/>
<path d="M291.6 382.1 L292.7 382.6" stroke="#e1ff16"/>
<path d="M292.7 382.6 L293.8 383.2" stroke="#d4ff23"/>
<path d="M293.8 383.2 L295.0 383.8" stroke="#caff2c"/>
<path d="M295.0 383.8 L296.1 384.4" stroke="#beff39"/>
<path d="M296.1 384.4 L297.2 384.9" stroke="#b4ff43"/>
<path d="M297.2 384.9 L298.3 385.3" stroke="#aaff4d"/>
<path d="M298.3 385.3 L299.7 385.8" stroke="#a0ff56"/>
<path d="M299.7 385.8 L301.2 386.3" stroke="#97ff60"/>
<path d="M301.2 386.3 L302.5 386.2" stroke="#90ff66"/>
<path d="M302.5 386.2 L303.4 385.7" stroke="#83ff73"/>
<path d="M303.4 385.7 L304.3 384.9" stroke="#77ff80"/>
<path d="M304.3 384.9 L305.2 384.0" stroke="#66ff90"/>
<path d="M305.2 384.0 L306.0 382.8" stroke="#5aff9d"/>
<path d="M306.0 382.8 L306.8 381.7" stroke="#4dffaa"/>
<path d="M306.8 381.7 L307.6 380.5" stroke="#46ffb1"/>
<path d="M307.6 380.5 L308.4 379.2" stroke="#3cffba"/>
<path d="M308.4 379.2 L309.0 377.8" stroke="#36ffc1"/>
<path d="M309.0 377.8 L309.3 376.5" stroke="#2cffca"/>
<path d="M309.3 376.5 L309.2 375.2" stroke="#26ffd1"/>
<path d="M309.2 375.2 L308.8 374.0" stroke="#23ffd4"/>
<path d="M308.8 374.0 L308.2 372.7" stroke="#1cffdb"/>
<path d="M308.2 372.7 L307.5 371.5" stroke="#19ffde"/>
<path d="M307.5 371.5 L306.9 370.3" stroke="#13fce4"/>
<path d="M306.9 370.3 L306.3 369.2" stroke="#0ff8e7"/>
<path d="M306.3 369.2 L305.8 368.1 L305.2 367.1" stroke="#0cf4eb"/>
<path d="M305.2 367.1 L304.6 366.1 L304.0 365.0" stroke="#09f0ee"/>
<path d="M304.0 365.0 L303.5 363.9" stroke="#06ecf1"/>
<path d="M303.5 363.9 L303.0 362.9" stroke="#00e4f8"/>
<path d="M303.0 362.9 L302.5 361.8" stroke="#00e0fb"/>
<path d="M302.5 361.8 L301.9 360.7" stroke="#00d8ff"/>
<path d="M301.9 360.7 L301.3 359.5" stroke="#00d4ff"/>
<path d="M301.3 359.5 L300.7 358.4" stroke="#00c4ff"/>
<path d="M300.7 358.4 L300.1 357.1" stroke="#00b0ff"/>
<path d="M300.1 357.1 L299.4 355.8" stroke="#0098ff"/>
<path d="M299.4 355.8 L298.7 354.5" stroke="#0084ff"/>
<path d="M298.7 354.5 L298.0 353.3" stroke="#006cff"/>
<path d="M298.0 353.3 L297.3 352.1" stroke="#0054ff"/>
<path d="M297.3 352.1 L296.6 350.9" stroke="#0044ff"/>
<path d="M296.6 350.9 L295.9 349.7" stroke="#003cff"/>
<path d="M295.9 349.7 L295.1 348.6" stroke="#0030ff"/>
<path d="M295.1 348.6 L294.4 347.5" stroke="#0028ff"/>
<path d="M294.4 347.5 L293.5 346.4" stroke="#001cff"/>
<path d="M293.5 346.4 L292.6 345.4" stroke="#0010ff"/>
<path d="M292.6 345.4 L291.6 344.4" stroke="#0004ff"/>
<path d="M291.6 344.4 L290.5 343.4" stroke="#0000ff"/>
<path d="M290.5 343.4 L289.5 342.5" stroke="#0000fa"/>
<path d="M289.5 342.5 L288.6 341.5" stroke="#0000ed"/>
<path d="M288.6 341.5 L287.8 340.7" stroke="#0000df"/>
<path d="M287.8 340.7 L286.7 339.3" stroke="#0000d6"/>
<path d="M286.7 339.3 L286.1 338.1" stroke="#0000cd"/>
<path d="M286.1 338.1 L285.8 337.0" stroke="#0000c8"/>
<path d="M285.8 337.0 L286.0 335.9" stroke="#0000cd"/>
<path d="M286.0 335.9 L286.7 334.8" stroke="#0000e8"/>
<path d="M286.7 334.8 L287.5 333.8" stroke="#0000ff"/>
<path d="M287.5 333.8 L288.4 332.8" stroke="#0010ff"/>
<path d="M288.4 332.8 L289.6 331.8" stroke="#003cff"/>
<path d="M289.6 331.8 L290.8 331.0" stroke="#0068ff"/>
<path d="M290.8 331.0 L291.8 330.5" stroke="#006cff"/>
<path d="M291.8 330.5 L292.8 330.1" stroke="#004cff"/>
<path d="M292.8 330.1 L293.9 329.8" stroke="#002cff"/>
<path d="M293.9 329.8 L295.0 329.3" stroke="#0008ff"/>
<path d="M295.0 329.3 L296.1 328.8 L297.3 328.2" stroke="#0000ff"/>
<path d="M297.3 328.2 L298.4 327.5" stroke="#0000fa"/>
<path d="M298.4 327.5 L299.2 326.7" stroke="#0000f6"/>
<path d="M299.2 326.7 L299.9 325.4 L300.3 323.9 L300.4 322.5 L300.1 321.1 L299.4 319.8 L298.8 318.5 L298.4 317.5 L298.0 316.5 L297.5 315.0 L297.2 313.9" stroke="#0000f1"/>
<path d="M297.2 313.9 L297.0 312.6" stroke="#0000ed"/>
<path d="M297.0 312.6 L296.7 311.2" stroke="#0000e8"/>
<path d="M296.7 311.2 L296.4 309.7" stroke="#0000e3"/>
<path d="M296.4 309.7 L296.1 308.1" stroke="#0000df"/>
<path d="M296.1 308.1 L295.8 306.7 L295.4 305.3 L295.1 303.9 L294.7 302.5 L294.3 301.1 L293.8 299.7 L293.3 298.3 L292.8 297.1" stroke="#0000da"/>
<path d="M292.8 297.1 L292.3 295.8" stroke="#0000df"/>
<path d="M292.3 295.8 L291.7 294.6" stroke="#0000e3"/>
<path d="M291.7 294.6 L291.2 293.4 L290.6 292.2" stroke="#0000e8"/>
<path d="M290.6 292.2 L290.1 291.0" stroke="#0000ed"/>
<path d="M290.1 291.0 L289.6 290.0" stroke="#0000f1"/>
<path d="M289.6 290.0 L289.0 288.7" stroke="#0000f6"/>
<path d="M289.0 288.7 L288.5 287.6" stroke="#0000fa"/>
<path d="M288.5 287.6 L288.0 286.5 L287.5 285.5 L287.0 284.5 L286.3 283.2 L285.7 282.0" stroke="#0000ff"/>
<path d="M285.7 282.0 L285.0 280.8" stroke="#0000fa"/>
<path d="M285.0 280.8 L284.3 279.5 L283.7 278.3" stroke="#0000f6"/>
<path d="M283.7 278.3 L283.1 277.0 L282.5 275.7" stroke="#0000ff"/>
<path d="M282.5 275.7 L282.0 274.5" stroke="#0008ff"/>
<path d="M282.0 274.5 L281.5 273.5" stroke="#0014ff"/>
<path d="M281.5 273.5 L280.9 272.2" stroke="#0020ff"/>
<path d="M280.9 272.2 L280.4 271.3" stroke="#0030ff"/>
<path d="M280.4 271.3 L279.9 270.3" stroke="#0044ff"/>
<path d="M279.9 270.3 L279.4 269.2" stroke="#005cff"/>
<path d="M279.4 269.2 L278.8 268.0" stroke="#0080ff"/>
<path d="M278.8 268.0 L278.2 267.0" stroke="#00a0ff"/>
<path d="M278.2 267.0 L277.5 266.1" stroke="#00bcff"/>
<path d="M277.5 266.1 L276.9 265.3" stroke="#00d0ff"/>
<path d="M276.9 265.3 L276.2 264.5" stroke="#00e4f8"/>
<path d="M276.2 264.5 L275.6 263.8" stroke="#0cf4eb"/>
<path d="M275.6 263.8 L275.1 263.0" stroke="#19ffde"/>
<path d="M275.1 263.0 L274.5 262.0" stroke="#23ffd4"/>
<path d="M274.5 262.0 L274.0 260.9" stroke="#30ffc7"/>
<path d="M274.0 260.9 L273.5 259.6" stroke="#39ffbe"/>
<path d="M273.5 259.6 L273.1 258.3" stroke="#43ffb4"/>
<path d="M273.1 258.3 L272.8 257.0" stroke="#4dffaa"/>
<path d="M272.8 257.0 L272.7 255.5" stroke="#56ffa0"/>
<path d="M272.7 255.5 L272.9 254.2" stroke="#60ff97"/>
<path d="M272.9 254.2 L273.2 252.8" stroke="#66ff90"/>
<path d="M273.2 252.8 L273.7 251.5" stroke="#6dff8a"/>
<path d="M273.7 251.5 L274.3 250.1" stroke="#73ff83"/>
<path d="M274.3 250.1 L274.9 248.7" stroke="#7aff7d"/>
<path d="M274.9 248.7 L275.4 247.5" stroke="#7dff7a"/>
<path d="M275.4 247.5 L276.0 246.3" stroke="#80ff77"/>
<path d="M276.0 246.3 L276.5 245.0" stroke="#87ff70"/>
<path d="M276.5 245.0 L277.0 243.7" stroke="#8aff6d"/>
<path d="M277.0 243.7 L277.4 242.4 L277.8 241.1 L278.0 239.9 L278.2 238.7" stroke="#8dff6a"/>
<path d="M278.2 238.7 L278.3 237.2" stroke="#90ff66"/>
<path d="M278.3 237.2 L278.2 235.8" stroke="#97ff60"/>
<path d="M278.2 235.8 L277.8 234.5" stroke="#a0ff56"/>
<path d="M277.8 234.5 L277.0 233.2" stroke="#a7ff50"/>
<path d="M277.0 233.2 L275.9 232.0" stroke="#adff49"/>
<path d="M275.9 232.0 L275.0 231.0" stroke="#b4ff43"/>
<path d="M275.0 231.0 L274.2 230.2" stroke="#b7ff40"/>
<path d="M274.2 230.2 L273.7 229.9" stroke="#baff3c"/>
<path d="M272.5 228.3 L271.6 228.5" stroke="#63ff94"/>
<path d="M271.6 228.5 L270.4 228.7" stroke="#60ff97"/>
<path d="M270.4 228.7 L268.9 229.0 L267.5 229.2" stroke="#5dff9a"/>
<path d="M267.5 229.2 L266.1 229.4" stroke="#5aff9d"/>
<path d="M266.1 229.4 L264.7 229.6 L263.2 229.7" stroke="#56ffa0"/>
<path d="M263.2 229.7 L261.7 230.0 L260.6 230.3 L259.6 230.6 L258.5 230.9 L257.3 231.3 L255.8 231.7 L254.7 232.0 L253.5 232.2 L252.3 232.5 L251.0 232.8 L249.6 233.1 L248.1 233.4 L246.6 233.6 L245.0 233.8 L243.8 233.9 L242.5 234.0 L241.2 234.1 L239.9 234.1 L238.5 234.2 L237.1 234.2 L235.6 234.2 L234.2 234.2 L232.8 234.3 L231.4 234.3 L230.0 234.3 L228.5 234.3 L226.9 234.3 L225.3 234.3 L223.8 234.3 L222.2 234.3 L220.6 234.3 L219.1 234.3 L217.7 234.3 L216.3 234.3 L215.0 234.3 L213.2 234.3" stroke="#53ffa4"/>
<path d="M213.2 234.3 L211.6 234.2 L210.0 234.1" stroke="#50ffa7"/>
<path d="M210.0 234.1 L208.5 234.1 L207.2 234.1 L206.0 234.2" stroke="#4dffaa"/>
<path d="M206.0 234.2 L205.0 234.4 L203.8 235.1 L203.0 236.2 L202.6 237.4 L202.0 238.5 L201.3 239.6 L200.5 240.6 L199.8 241.7 L199.2 242.8 L198.7 243.8" stroke="#49ffad"/>
<path d="M198.7 243.8 L198.3 244.9 L197.9 245.9" stroke="#46ffb1"/>
<path d="M197.9 245.9 L197.5 247.0" stroke="#43ffb4"/>
<path d="M197.5 247.0 L197.1 248.2" stroke="#40ffb7"/>
<path d="M197.1 248.2 L196.6 249.4" stroke="#3cffba"/>
<path d="M196.6 249.4 L196.2 250.7" stroke="#36ffc1"/>
<path d="M196.2 250.7 L195.8 252.0" stroke="#33ffc4"/>
<path d="M195.8 252.0 L195.5 253.1" stroke="#30ffc7"/>
<path d="M195.5 253.1 L195.2 254.3" stroke="#29ffce"/>
<path d="M195.2 254.3 L194.9 255.6" stroke="#26ffd1"/>
<path d="M194.9 255.6 L194.7 256.8" stroke="#1fffd7"/>
<path d="M194.7 256.8 L194.5 258.0" stroke="#1cffdb"/>
<path d="M194.5 258.0 L194.3 259.5" stroke="#16ffe1"/>
<path d="M194.3 259.5 L194.2 261.0" stroke="#0ff8e7"/>
<path d="M194.2 261.0 L194.1 262.5" stroke="#09f0ee"/>
<path d="M194.1 262.5 L194.0 263.8" stroke="#02e8f4"/>
<path d="M194.0 263.8 L193.9 265.1" stroke="#00d4ff"/>
<path d="M193.9 265.1 L193.8 266.2" stroke="#00b0ff"/>
<path d="M193.8 266.2 L193.6 267.5" stroke="#0090ff"/>
<path d="M193.6 267.5 L193.4 268.8" stroke="#0068ff"/>
<path d="M193.4 268.8 L193.2 270.2" stroke="#003cff"/>
<path d="M193.2 270.2 L193.0 271.6" stroke="#0010ff"/>
<path d="M193.0 271.6 L192.9 272.8" stroke="#0000f1"/>
<path d="M192.9 272.8 L193.1 274.1" stroke="#0000d6"/>
<path d="M193.1 274.1 L193.5 275.3" stroke="#0000cd"/>
<path d="M193.5 275.3 L194.0 276.5" stroke="#0000c8"/>
<path d="M194.0 276.5 L194.4 277.6" stroke="#0000c4"/>
<path d="M194.4 277.6 L194.8 278.7" stroke="#0000bf"/>
<path d="M194.8 278.7 L195.2 279.9 L195.5 281.0" stroke="#0000bb"/>
<path d="M195.5 281.0 L195.7 282.2 L195.8 283.3 L195.8 284.5 L195.9 285.5 L196.1 286.7 L196.3 287.8 L196.5 288.5" stroke="#0000b6"/>
<path d="M196.5 288.5 L196.6 289.2" stroke="#d7ff1f"/>
<path d="M196.6 289.2 L196.7 290.3" stroke="#eeff09"/>
<path d="M196.7 290.3 L196.8 291.6" stroke="#ffea00"/>
<path d="M196.8 291.6 L197.0 293.0" stroke="#ffd000"/>
<path d="M197.0 293.0 L197.2 294.3" stroke="#ffc100"/>
<path d="M197.2 294.3 L197.4 295.7" stroke="#ffb600"/>
<path d="M197.4 295.7 L197.6 297.2" stroke="#ffab00"/>
<path d="M197.6 297.2 L197.8 298.7" stroke="#ff9f00"/>
<path d="M197.8 298.7 L198.0 300.0" stroke="#ff9100"/>
<path d="M198.0 300.0 L198.3 301.4" stroke="#ff8200"/>
<path d="M198.3 301.4 L198.6 302.6" stroke="#ff6f00"/>
<path d="M198.6 302.6 L198.8 303.8" stroke="#ff5d00"/>
<path d="M198.8 303.8 L199.0 305.0" stroke="#ff4a00"/>
<path d="M199.0 305.0 L199.0 306.3" stroke="#ff3b00"/>
<path d="M199.0 306.3 L199.0 307.6" stroke="#ff2d00"/>
<path d="M199.0 307.6 L198.8 308.9" stroke="#ff1e00"/>
<path d="M198.8 308.9 L198.6 310.0" stroke="#fa0f00"/>
<path d="M198.6 310.0 L198.2 311.2" stroke="#ed0400"/>
<path d="M198.2 311.2 L197.7 312.1" stroke="#e80000"/>
<path d="M197.7 312.1 L197.0 313.0" stroke="#df0000"/>
<path d="M197.0 313.0 L196.2 313.7 L195.2 314.3 L194.0 315.0 L192.9 315.6 L191.6 316.2 L190.2 316.9 L189.0 317.5 L187.4 318.3 L186.0 319.0 L185.0 319.5" stroke="#da0000"/>
<path d="M184.5 323.5 L184.5 321.9 L184.5 320.2 L184.5 318.6 L184.5 317.0" stroke="#cd0000"/>
</g>
<path d="M187.3 325.0 L187.7 323.9 L188.2 322.3 L189.0 321.0 L190.1 320.4 L191.4 320.1 L193.0 319.8 L194.2 319.6 L195.6 319.5 L197.0 319.3 L198.5 319.2 L200.0 319.0 L201.4 318.8 L202.8 318.7 L204.2 318.6 L205.7 318.3 L207.3 317.9 L208.4 317.6 L209.6 317.2 L210.9 316.7 L212.2 316.2 L213.6 315.7 L214.9 315.2 L216.2 314.6 L217.4 314.0 L218.6 313.4 L219.8 312.7 L221.0 311.9 L222.2 311.2 L223.3 310.4 L224.4 309.6 L225.5 308.9 L226.6 308.3 L228.1 307.5 L229.7 306.8 L231.2 306.1 L232.6 305.4 L233.6 304.8 L234.0 304.3 L233.6 303.8 L232.5 303.4 L231.0 303.1 L229.4 302.8 L228.0 302.5 L226.7 302.0 L225.4 301.5 L224.2 301.0 L223.0 300.5 L221.8 300.0 L220.5 299.5 L219.2 299.0 L218.0 298.5 L216.8 298.1 L215.5 297.8 L214.2 297.5 L213.0 297.0 L211.7 296.4 L210.4 295.6 L209.2 294.9 L208.0 294.2 L207.0 293.6 L206.0 293.1 L205.0 292.6 L204.0 292.0 L202.8 291.4 L201.4 290.7 L200.1 290.0 L199.0 289.5 L197.5 289.0 L196.5 288.5 L196.1 287.7 L195.8 286.7 L195.5 285.5 L195.2 284.4 L194.8 283.2 L194.5 282.0 L194.0 280.8 L193.5 279.7 L192.9 278.7 L192.2 277.8 L191.5 276.8 L190.7 275.9 L189.8 275.0 L188.9 274.0 L188.0 273.0 L187.3 272.1 L186.5 271.1 L185.7 270.1 L185.0 269.1 L184.2 268.0 L183.4 266.8 L182.7 265.5 L181.9 264.2 L181.2 263.0 L180.5 262.0 L179.4 260.7 L178.4 259.8 L177.5 258.8 L176.8 257.6 L176.1 256.3 L175.5 255.0 L174.9 253.9 L174.4 252.8 L173.8 251.8 L173.3 251.0 L172.6 250.5 L172.0 250.0 L171.5 249.1 L171.0 247.8 L170.5 246.5 L170.0 245.3 L169.4 244.0 L169.0 242.9 L168.8 241.6 L169.0 240.5 L169.3 239.3 L169.8 238.0 L170.3 236.7 L170.5 235.5 L170.6 234.1 L170.8 232.7 L171.5 231.5 L173.0 230.7 L173.9 230.5 L175.0 230.3 L176.3 230.3 L177.7 230.2 L179.2 230.2 L180.8 230.3 L182.4 230.3 L184.0 230.4 L185.6 230.5 L187.2 230.5 L188.6 230.6 L190.0 230.6 L191.6 230.6 L193.2 230.6 L194.7 230.6 L196.3 230.6 L197.8 230.6 L199.3 230.6 L200.6 230.6 L201.9 230.7 L203.0 230.7 L204.0 230.7 L206.0 230.8 L207.0 231.0 L208.0 231.1 L208.9 231.2 L209.7 231.2 L210.9 231.3 L213.0 231.3 L214.0 231.3 L215.2 231.3 L216.5 231.4 L217.9 231.4 L219.3 231.4 L220.9 231.4 L222.5 231.4 L224.0 231.5 L225.6 231.5 L227.1 231.5 L228.6 231.5 L230.0 231.5 L231.5 231.5 L232.9 231.5 L234.4 231.5 L235.9 231.5 L237.3 231.5 L238.7 231.5 L240.1 231.5 L241.4 231.5 L242.7 231.5 L243.9 231.4 L245.0 231.4 L246.8 231.3 L248.3 231.2 L249.6 231.0 L250.8 230.8 L252.0 230.6 L253.3 230.4 L254.6 230.2 L256.0 229.9 L257.3 229.6 L258.6 229.3 L259.8 229.0 L260.8 228.8 L262.2 228.4 L263.3 228.1 L264.5 227.8 L265.7 227.5 L267.1 227.1 L268.6 226.8 L270.3 226.6 L271.6 226.5 L272.9 226.4 L274.3 226.4 L275.8 226.4 L277.3 226.5 L278.7 226.6 L280.1 226.8 L281.6 227.1 L283.1 227.5 L284.5 227.9 L285.8 228.3 L287.0 228.7 L288.6 229.3 L289.9 229.9 L291.1 230.5 L292.0 231.2 L292.8 232.3 L293.1 233.5 L293.3 234.5 L293.4 235.5 L293.3 236.5 L293.2 237.6 L293.0 238.8 L292.8 240.0 L292.8 241.3 L292.4 242.8 L291.9 243.9 L291.1 245.1 L290.3 246.4 L289.5 247.8 L288.9 248.9 L288.3 250.1 L287.8 251.4 L287.2 252.6 L286.6 253.7 L285.9 255.0 L285.1 256.3 L284.4 257.5 L283.7 258.7 L283.0 259.9 L282.4 261.2 L281.8 262.4 L281.2 263.7 L280.6 265.0 L280.0 266.4 L279.3 267.6 L278.7 268.7 L277.9 269.5 L277.2 270.0 L276.0 271.0 L275.2 271.8 L274.2 272.8 L273.1 273.9 L271.9 275.0 L270.9 276.3 L270.0 277.5 L269.4 278.6 L268.8 279.8 L268.3 281.0 L267.9 282.2 L267.4 283.5 L267.0 284.7 L266.5 286.0 L266.0 287.3 L265.5 288.7 L265.0 290.1 L264.5 291.5 L264.0 292.8 L263.5 294.1 L262.9 295.2 L262.0 296.5 L261.0 297.7 L260.1 298.7 L259.1 299.7 L258.3 300.8 L257.6 302.0 L257.1 303.3 L256.6 304.5 L256.1 305.8 L255.6 307.2 L255.2 308.4 L254.7 309.6 L254.3 310.9 L253.8 312.2 L253.3 313.4 L252.8 314.5 L252.1 315.7 L251.3 316.9 L250.5 317.9 L249.7 319.0 L249.0 320.0 L248.1 321.3 L247.2 322.5 L246.5 323.7 L246.0 325.0 L245.9 326.1 L245.9 327.3 L246.1 328.6 L246.3 329.8 L246.5 331.0 L246.7 332.1 L246.9 333.2 L247.1 334.2 L247.3 335.5 L247.5 337.0 L247.6 338.1 L247.6 339.4 L247.7 340.8 L247.7 342.2 L247.7 343.7 L247.8 345.2 L247.9 346.6 L248.0 348.0 L248.2 349.5 L248.4 351.1 L248.6 352.7 L248.9 354.2 L249.2 355.6 L249.6 356.9 L250.0 358.0 L250.8 359.4 L251.8 360.4 L252.9 361.2 L254.0 362.0 L254.9 362.7 L255.7 363.3 L256.6 364.0 L257.7 364.7 L259.0 365.5 L260.0 366.1 L261.2 366.7 L262.5 367.4 L263.9 368.2 L265.2 368.9 L266.6 369.6 L267.9 370.3 L269.0 371.0 L270.3 371.9 L271.4 372.7 L272.5 373.5 L273.6 374.4 L274.7 375.2 L276.0 376.0 L277.1 376.6 L278.3 377.3 L279.6 377.9 L280.9 378.6 L282.3 379.2 L283.6 379.9 L284.8 380.5 L286.0 381.0 L287.5 381.7 L289.0 382.3 L290.4 382.8 L291.7 383.4 L292.9 383.8 L294.0 384.3 L295.3 384.9 L296.4 385.5 L297.3 386.0 L298.3 386.4 L299.5 386.8 L300.7 387.1 L301.8 387.3 L302.8 387.2 L303.7 386.7 L304.3 385.8 L305.0 384.5 L305.6 383.4 L306.2 382.0 L306.8 380.5 L307.3 378.9 L307.5 377.5 L307.3 376.2 L306.9 374.8 L306.2 373.5 L305.6 372.2 L305.0 371.0 L304.5 369.8 L304.0 368.7 L303.5 367.7 L303.0 366.6 L302.5 365.5 L302.0 364.2 L301.6 362.9 L301.1 361.6 L300.3 360.0 L299.7 359.0 L298.9 357.8 L298.0 356.6 L297.2 355.4 L296.3 354.2 L295.6 353.0 L295.0 352.0 L294.5 350.4 L294.3 349.1 L294.1 347.8 L293.5 346.4 L292.8 345.4 L291.8 344.4 L290.7 343.4 L289.6 342.5 L288.6 341.5 L287.8 340.7 L286.7 339.3 L286.1 338.1 L285.8 337.0 L286.0 335.9 L286.7 334.8 L287.5 333.8 L288.4 332.8 L289.6 331.8 L290.8 331.0 L291.8 330.5 L292.8 330.1 L293.9 329.8 L295.0 329.3 L296.1 328.8 L297.3 328.2 L298.4 327.5 L299.2 326.7 L299.9 325.4 L300.3 323.9 L300.4 322.5 L300.1 321.1 L299.4 319.8 L298.8 318.5 L298.4 317.5 L298.0 316.5 L297.5 315.0 L297.2 313.9 L297.0 312.6 L296.7 311.2 L296.4 309.7 L296.1 308.1 L295.8 306.7 L295.4 305.3 L295.1 303.9 L294.7 302.5 L294.3 301.1 L293.8 299.7 L293.3 298.3 L292.8 297.1 L292.3 295.8 L291.7 294.6 L291.2 293.4 L290.6 292.2 L290.1 291.0 L289.6 290.0 L289.0 288.7 L288.5 287.6 L288.0 286.5 L287.5 285.5 L287.0 284.5 L286.3 283.2 L285.7 282.0 L285.0 280.8 L284.3 279.5 L283.7 278.3 L283.1 277.0 L282.5 275.7 L282.0 274.5 L281.5 273.5 L280.9 272.2 L280.4 271.3 L279.9 270.3 L279.4 269.2 L278.8 268.0 L278.2 267.0 L277.5 266.1 L276.9 265.3 L276.2 264.5 L275.6 263.8 L275.1 263.0 L274.5 262.0 L274.0 260.9 L273.5 259.6 L273.1 258.3 L272.8 257.0 L272.7 255.5 L272.9 254.2 L273.2 252.8 L273.7 251.5 L274.3 250.1 L274.9 248.7 L275.4 247.5 L276.0 246.3 L276.5 245.0 L277.0 243.7 L277.4 242.4 L277.8 241.1 L278.0 239.9 L278.2 238.7 L278.3 237.2 L278.2 235.8 L277.8 234.5 L277.0 233.2 L275.9 232.0 L275.0 231.0 L274.4 230.4 L273.7 229.9 L272.8 229.2 L271.7 228.4 L270.3 227.9 L269.0 228.0 L267.4 228.3 L265.9 228.7 L264.5 229.0 L263.2 229.2 L262.1 229.4 L260.8 229.6 L259.8 229.8 L258.7 230.1 L257.5 230.4 L255.8 230.8 L254.8 231.0 L253.6 231.2 L252.4 231.5 L251.0 231.7 L249.6 232.0 L248.1 232.2 L246.6 232.4 L245.0 232.6 L243.8 232.7 L242.5 232.8 L241.2 232.9 L239.9 232.9 L238.5 233.0 L237.1 233.0 L235.6 233.1 L234.2 233.1 L232.8 233.1 L231.4 233.2 L230.0 233.2 L228.6 233.2 L227.2 233.2 L225.7 233.3 L224.3 233.3 L222.8 233.3 L221.3 233.3 L219.9 233.3 L218.6 233.3 L217.3 233.3 L216.1 233.3 L215.0 233.3 L213.2 233.3 L211.6 233.3 L210.3 233.3 L209.1 233.3 L208.0 233.4 L207.0 233.5 L205.5 233.8 L204.4 234.3 L203.5 234.8 L202.2 235.3 L201.0 236.3 L200.4 237.2 L199.8 238.4 L199.2 239.7 L198.6 241.0 L198.1 242.2 L197.6 243.5 L197.1 244.7 L196.6 246.0 L196.1 247.2 L195.7 248.5 L195.3 249.8 L194.9 251.0 L194.6 252.2 L194.3 253.4 L194.1 254.7 L193.9 256.0 L193.8 257.1 L193.8 258.4 L193.7 259.6 L193.7 260.8 L193.7 262.0 L193.7 263.4 L193.7 264.8 L193.7 266.2 L193.6 267.5 L193.4 268.9 L193.2 270.3 L193.0 271.6 L192.9 272.8 L193.1 274.1 L193.5 275.3 L194.0 276.5 L194.4 277.6 L194.8 278.7 L195.2 279.9 L195.5 281.0 L195.7 282.2 L195.8 283.3 L195.8 284.5 L195.9 285.5 L196.1 286.6 L196.2 287.6 L196.5 288.5 L197.2 289.6 L198.0 291.0 L198.4 292.0 L198.8 293.1 L199.2 294.4 L199.6 295.7 L200.0 297.0 L200.3 298.2 L200.7 299.4 L201.0 300.6 L201.3 301.8 L201.5 303.0 L201.7 304.2 L201.9 305.4 L202.0 306.7 L202.0 307.9 L202.0 309.0 L201.8 310.3 L201.5 311.6 L201.1 312.8 L200.5 314.0 L199.8 315.1 L199.0 316.2 L198.0 317.1 L197.0 318.0 L195.8 318.8 L194.5 319.4 L193.1 320.0 L192.0 320.5 L190.8 321.0 L189.8 321.5 L189.0 322.0 L188.3 322.9 L187.7 323.8 L187.3 324.5" stroke="#000" stroke-opacity="0.5" stroke-width="2.083" stroke-dasharray="7.708 3.333" stroke-linecap="butt" stroke-linejoin="round"/>
</g>
<g fill="#262626" style="font-family: 'Liberation Sans', sans-serif">
<text x="35.56" y="449.91" font-size="16.118" textLength="37.03" lengthAdjust="spacingAndGlyphs">−2.5</text>
<text x="69.70" y="459.63" font-size="16.118" textLength="24.25" lengthAdjust="spacingAndGlyphs">0.0</text>
<text x="97.30" y="468.96" font-size="16.118" textLength="24.25" lengthAdjust="spacingAndGlyphs">2.5</text>
<text x="125.24" y="477.90" font-size="16.118" textLength="24.25" lengthAdjust="spacingAndGlyphs">5.0</text>
<text x="154.53" y="487.95" font-size="16.118" textLength="24.25" lengthAdjust="spacingAndGlyphs">7.5</text>
<text x="178.85" y="497.63" font-size="16.118" textLength="33.96" lengthAdjust="spacingAndGlyphs">10.0</text>
<text x="209.34" y="506.92" font-size="16.118" textLength="33.96" lengthAdjust="spacingAndGlyphs">12.5</text>
<text x="238.20" y="516.83" font-size="16.118" textLength="33.96" lengthAdjust="spacingAndGlyphs">15.0</text>
<text x="269.42" y="526.86" font-size="16.118" textLength="33.96" lengthAdjust="spacingAndGlyphs">17.5</text>
<g transform="translate(130.54 501.32) rotate(-341.913)"><text x="0.00" y="-1.24" font-size="17.583" textLength="9.84" lengthAdjust="spacingAndGlyphs" font-style="italic">x</text><text x="15.16" y="-1.24" font-size="17.583" textLength="6.49" lengthAdjust="spacingAndGlyphs">(</text><text x="21.66" y="-1.24" font-size="17.583" textLength="16.19" lengthAdjust="spacingAndGlyphs">m</text><text x="37.90" y="-1.24" font-size="17.583" textLength="6.49" lengthAdjust="spacingAndGlyphs">)</text></g>
<text x="308.96" y="520.99" font-size="16.118" textLength="37.03" lengthAdjust="spacingAndGlyphs">−7.5</text>
<text x="324.32" y="503.81" font-size="16.118" textLength="37.03" lengthAdjust="spacingAndGlyphs">−5.0</text>
<text x="340.83" y="486.99" font-size="16.118" textLength="37.03" lengthAdjust="spacingAndGlyphs">−2.5</text>
<text x="362.89" y="470.52" font-size="16.118" textLength="24.25" lengthAdjust="spacingAndGlyphs">0.0</text>
<text x="377.25" y="454.89" font-size="16.118" textLength="24.25" lengthAdjust="spacingAndGlyphs">2.5</text>
<text x="392.30" y="438.59" font-size="16.118" textLength="24.25" lengthAdjust="spacingAndGlyphs">5.0</text>
<text x="407.54" y="423.60" font-size="16.118" textLength="24.25" lengthAdjust="spacingAndGlyphs">7.5</text>
<text x="417.18" y="407.93" font-size="16.118" textLength="33.96" lengthAdjust="spacingAndGlyphs">10.0</text>
<text x="432.34" y="393.55" font-size="16.118" textLength="33.96" lengthAdjust="spacingAndGlyphs">12.5</text>
<g transform="translate(400.13 481.72) rotate(-45.742)"><text x="0.00" y="-1.24" font-size="17.583" textLength="9.84" lengthAdjust="spacingAndGlyphs" font-style="italic">y</text><text x="15.16" y="-1.24" font-size="17.583" textLength="6.49" lengthAdjust="spacingAndGlyphs">(</text><text x="21.66" y="-1.24" font-size="17.583" textLength="16.19" lengthAdjust="spacingAndGlyphs">m</text><text x="37.90" y="-1.24" font-size="17.583" textLength="6.49" lengthAdjust="spacingAndGlyphs">)</text></g>
<text x="447.01" y="354.53" font-size="16.118" textLength="37.03" lengthAdjust="spacingAndGlyphs">−7.5</text>
<text x="447.58" y="334.51" font-size="16.118" textLength="37.03" lengthAdjust="spacingAndGlyphs">−5.0</text>
<text x="449.15" y="313.78" font-size="16.118" textLength="37.03" lengthAdjust="spacingAndGlyphs">−2.5</text>
<text x="456.11" y="292.85" font-size="16.118" textLength="24.25" lengthAdjust="spacingAndGlyphs">0.0</text>
<text x="456.21" y="271.71" font-size="16.118" textLength="24.25" lengthAdjust="spacingAndGlyphs">2.5</text>
<text x="457.32" y="249.85" font-size="16.118" textLength="24.25" lengthAdjust="spacingAndGlyphs">5.0</text>
<text x="459.44" y="228.78" font-size="16.118" textLength="24.25" lengthAdjust="spacingAndGlyphs">7.5</text>
<text x="454.75" y="206.99" font-size="16.118" textLength="33.96" lengthAdjust="spacingAndGlyphs">10.0</text>
<text x="456.90" y="184.98" font-size="16.118" textLength="33.96" lengthAdjust="spacingAndGlyphs">12.5</text>
<g transform="translate(503.14 281.05) rotate(-87.378)"><text x="0.00" y="-1.24" font-size="17.583" textLength="8.73" lengthAdjust="spacingAndGlyphs" font-style="italic">z</text><text x="14.05" y="-1.24" font-size="17.583" textLength="6.49" lengthAdjust="spacingAndGlyphs">(</text><text x="20.55" y="-1.24" font-size="17.583" textLength="16.19" lengthAdjust="spacingAndGlyphs">m</text><text x="36.78" y="-1.24" font-size="17.583" textLength="6.49" lengthAdjust="spacingAndGlyphs">)</text></g>
<text x="119.00" y="43.87" font-size="17.583" textLength="245.50" lengthAdjust="spacingAndGlyphs">APE w.r.t. translation part (m)</text>
<text x="98.12" y="64.67" font-size="17.583" textLength="288.01" lengthAdjust="spacingAndGlyphs">(with Sim(3) Umeyama alignment)</text>
<text x="380.75" y="98.75" font-size="16.118" textLength="72.74" lengthAdjust="spacingAndGlyphs">reference</text>
</g>
<g transform="scale(1.3888889)"><g id="figure_1b">
<g id="axes_2">
   <g id="patch_7">
    <path d="M 357.12 412.416 
L 377.136 412.416 
L 377.136 17.136 
L 357.12 17.136 
z
" style="fill: #eaeaf2"/>
   </g>
   <g id="matplotlib.axis_1"/>
   <g id="matplotlib.axis_2">
    <g id="ytick_1">
     <g id="line2d_60">
      <defs>
       <path id="m83cedf2c6c" d="M 0 0 
L 6 0 
" style="stroke: #262626; stroke-width: 1.25"/>
      </defs>
      <g>
       <use href="#m83cedf2c6c" x="377.136" y="412.416" style="fill: #262626; stroke: #262626; stroke-width: 1.25"/>
      </g>
     </g>
     <g id="text_33">
     </g>
    </g>
    <g id="ytick_2">
     <g id="line2d_61">
      <g>
       <use href="#m83cedf2c6c" x="377.136" y="214.776" style="fill: #262626; stroke: #262626; stroke-width: 1.25"/>
      </g>
     </g>
     <g id="text_34">
     </g>
    </g>
    <g id="ytick_3">
     <g id="line2d_62">
      <g>
       <use href="#m83cedf2c6c" x="377.136" y="17.136" style="fill: #262626; stroke: #262626; stroke-width: 1.25"/>
      </g>
     </g>
     <g id="text_35">
     </g>
    </g>
   </g>
   <rect x="357.120" y="17.136" width="20.016" height="395.280" fill="url(#jetg)"/>
   <g id="LineCollection_1"/>
   <g id="patch_8">
    <path d="M 357.12 412.416 
L 367.128 412.416 
L 377.136 412.416 
L 377.136 17.136 
L 367.128 17.136 
L 357.12 17.136 
L 357.12 412.416 
z
" style="fill: none; stroke: #ffffff; stroke-width: 1.25; stroke-linejoin: miter; stroke-linecap: square"/>
   </g>
  </g>
 </g>
 <defs>
  <clipPath id="p6dd42b0455">
   <rect x="12.96" y="52.92" width="324" height="324"/>
  </clipPath>
 </defs>
</g>
<g fill="#262626" style="font-family: 'Liberation Sans', sans-serif">
<text x="536.99" y="578.80" font-size="16.118" textLength="43.66" lengthAdjust="spacingAndGlyphs">0.017</text>
<text x="536.99" y="303.80" font-size="16.118" textLength="43.66" lengthAdjust="spacingAndGlyphs">0.175</text>
<text x="536.99" y="29.80" font-size="16.118" textLength="43.66" lengthAdjust="spacingAndGlyphs">0.333</text>
</g>
</svg>

</body></html>
